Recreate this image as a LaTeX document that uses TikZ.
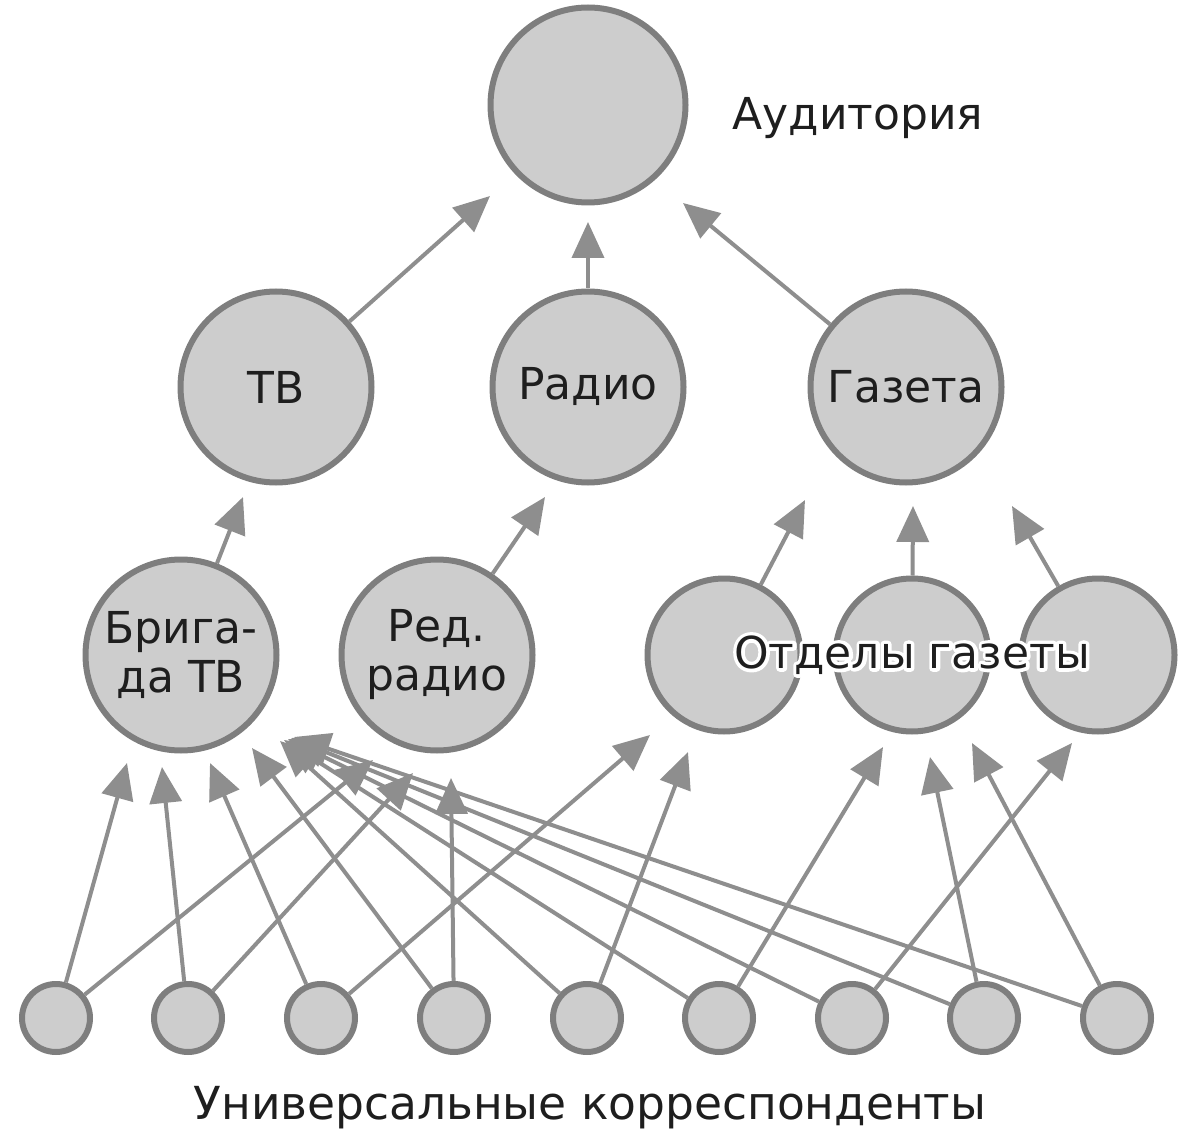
\documentclass[tikz,border=0pt]{standalone}
\usepackage{fontspec}
\setmainfont{DejaVu Sans}
\usetikzlibrary{arrows.meta}
\definecolor{cfill}{HTML}{CDCDCD}
\definecolor{cline}{HTML}{7E7E7E}
\definecolor{aline}{HTML}{8E8E8E}
\definecolor{txt}{HTML}{1E1E1E}
\newcommand\halotext[1]{\makebox[0pt][l]{\special{pdf:literal direct 1 Tr 7 w 1 J 1 j 1 1 1 RG}#1\special{pdf:literal direct 0 Tr 1 w 0 G}}#1}
\begin{document}
\begin{tikzpicture}[x=1pt,y=-1pt,
  circ/.style={circle,draw=cline,fill=cfill,line width=6pt,inner sep=0pt,text=txt,align=center,font=\fontsize{44}{49}\selectfont},
  bigc/.style={circ,minimum size=191pt},
  midc/.style={circ,minimum size=153pt},
  smallc/.style={circ,minimum size=68pt},
  arr/.style={draw=aline,line width=4pt,-{Triangle[length=36pt,width=32pt]}},
  lbl/.style={text=txt,font=\fontsize{44}{49}\selectfont,inner sep=0pt}
]
\useasboundingbox (0,0) rectangle (1178,1139);
% nodes
\node[bigc,minimum size=195pt] (aud) at (588,105) {};
\node[lbl] (audl) at (858,118) {Аудитория};
\node[bigc] (tv) at (276,387) {ТВ};
\node[bigc] (radio) at (588,387) {Радио};
\node[bigc] (gaz) at (906,387) {Газета};
\node[bigc] (brig) at (181,655) {Брига-\\да ТВ};
\node[bigc] (red) at (437,655) {Ред.\\радио};
\node[midc] (d1) at (724,655) {};
\node[midc] (d2) at (912,655) {};
\node[midc] (d3) at (1098,655) {};
\foreach \i/\x in {1/56,2/188,3/321,4/454,5/587,6/719,7/852,8/984,9/1117}
  \node[smallc] (b\i) at (\x,1018) {};
\node[lbl,font=\fontsize{45.5}{50}\selectfont] (corrl) at (590,1108) {Универсальные корреспонденты};
% arrow tips
\coordinate (tA1) at (490,196);
\coordinate (tA2) at (588,222);
\coordinate (tA3) at (683,203);
\coordinate (tB1) at (243,497);
\coordinate (tB2) at (545,497);
\coordinate (tG1) at (805,500);
\coordinate (tG2) at (913,506);
\coordinate (tG3) at (1012,506);
\coordinate (br1) at (127,763);
\coordinate (br2) at (162,767);
\coordinate (br3) at (210,763);
\coordinate (br4) at (252,748);
\coordinate (br5) at (280,741);
\coordinate (br6) at (284,740);
\coordinate (br7) at (288,739);
\coordinate (br8) at (291,738);
\coordinate (br9) at (294,737);
\coordinate (rd1) at (373,760);
\coordinate (rd2) at (413,773);
\coordinate (rd4) at (451,778);
\coordinate (da3) at (650,735);
\coordinate (da5) at (688,752);
\coordinate (db6) at (883,747);
\coordinate (db8) at (930,757);
\coordinate (db9) at (972,743);
\coordinate (dc7) at (1072,743);
% upper arrows
\draw[arr] (tv) -- (tA1);
\draw[arr] (radio) -- (tA2);
\draw[arr] (gaz) -- (tA3);
\draw[arr] (brig) -- (tB1);
\draw[arr] (red) -- (tB2);
\draw[arr] (d1) -- (tG1);
\draw[arr] (d2) -- (tG2);
\draw[arr] (d3) -- (tG3);
% bottom arrows
\foreach \i in {1,...,9} \draw[arr] (b\i) -- (br\i);
\draw[arr] (b1) -- (rd1);
\draw[arr] (b2) -- (rd2);
\draw[arr] (b4) -- (rd4);
\draw[arr] (b3) -- (da3);
\draw[arr] (b5) -- (da5);
\draw[arr] (b6) -- (db6);
\draw[arr] (b8) -- (db8);
\draw[arr] (b9) -- (db9);
\draw[arr] (b7) -- (dc7);
% label over the newspaper departments
\node[lbl] (deptl) at (912,655) {\halotext{Отделы газеты}};
\end{tikzpicture}
\end{document}
